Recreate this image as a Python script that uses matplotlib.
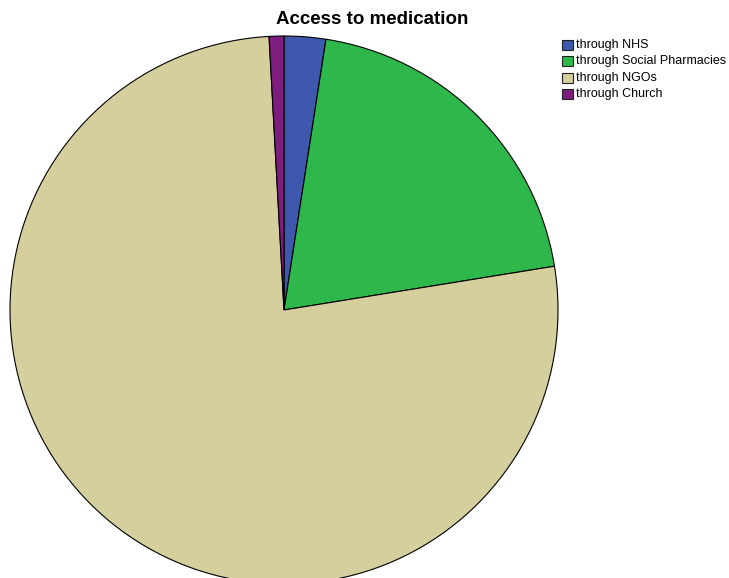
import matplotlib
matplotlib.use("Agg")
import matplotlib.pyplot as plt
from matplotlib.patches import Rectangle

plt.rcParams["font.family"] = ["Liberation Sans", "DejaVu Sans"]

labels = ["through NHS", "through Social Pharmacies", "through NGOs", "through Church"]
values = [2.45, 20.0, 76.7, 0.87]
colors = ["#3d58ad", "#2eb84b", "#d4cf9d", "#7d1e7e"]

W, H = 729, 578
fig = plt.figure(figsize=(W / 100, H / 100), dpi=100)
ax = fig.add_axes([0, 0, 1, 1])

# pie centre/radius in pixel units (y from bottom)
ax.pie(values, colors=colors, startangle=90, counterclock=False,
       center=(284, H - 310), radius=274, frame=True,
       wedgeprops=dict(edgecolor="black", linewidth=0.8))
ax.set_xlim(0, W); ax.set_ylim(0, H)
ax.set_aspect("equal")
ax.axis("off")

ax.text(372, H - 20, "Access to medication", ha="center", va="center",
        fontsize=13.5, fontweight="bold")

# legend drawn by hand
y0 = H - 45
for i, (lab, c) in enumerate(zip(labels, colors)):
    y = y0 - i * 16.3
    ax.add_patch(Rectangle((562, y - 5), 11, 10, facecolor=c,
                           edgecolor="#222222", linewidth=0.8))
    ax.text(576, y, lab, ha="left", va="center", fontsize=9.0)

fig.savefig("out.png", dpi=100)
